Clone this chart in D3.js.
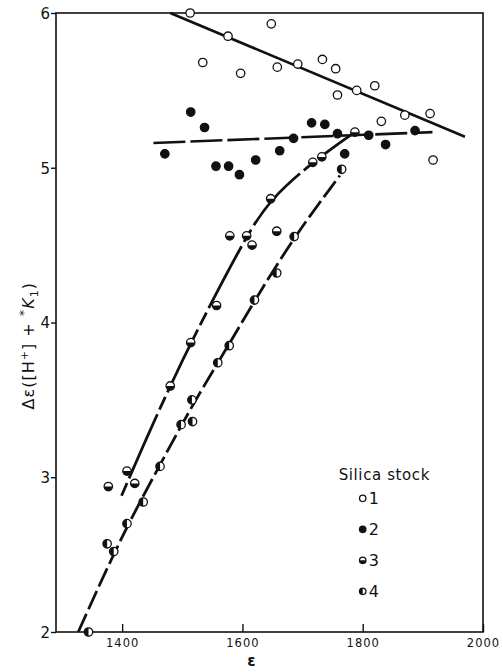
<!DOCTYPE html>
<meta charset="utf-8">
<head>
  <meta charset="utf-8">
  <title>Silica stock</title>
  <style>
    body { margin: 0; background: #fff; }
    svg { display: block; }
    .tick text { font-family: "DejaVu Sans", sans-serif; fill: #111; }
    .lab { font-family: "DejaVu Sans", sans-serif; fill: #111; }
  </style>
</head>
<body>
<div id="chart"></div>
<script src="https://d3js.org/d3.v7.min.js"></script>
<script>

// data
var stock1 = [[1513, 6.00], [1576, 5.85], [1534, 5.68], [1597, 5.61], [1648, 5.93], [1658, 5.65],
  [1692, 5.67], [1733, 5.70], [1755, 5.64], [1758, 5.47], [1790, 5.50], [1820, 5.53],
  [1831, 5.30], [1870, 5.34], [1912, 5.35], [1917, 5.05]];
var stock2 = [[1514, 5.36], [1537, 5.26], [1471, 5.09], [1556, 5.01], [1577, 5.01], [1595, 4.955],
  [1622, 5.05], [1662, 5.11], [1685, 5.19], [1715, 5.29], [1737, 5.28], [1758, 5.22],
  [1770, 5.09], [1810, 5.21], [1838, 5.15], [1887, 5.24]];
var stock3 = [[1377, 2.94], [1408, 3.04], [1421, 2.96], [1480, 3.59], [1514, 3.87], [1557, 4.11],
  [1579, 4.56], [1607, 4.56], [1616, 4.50], [1657, 4.59], [1647, 4.80], [1717, 5.035],
  [1732, 5.07], [1787, 5.23]];
var stock4 = [[1344, 2.00], [1375, 2.57], [1386, 2.52], [1408, 2.70], [1435, 2.84], [1463, 3.07],
  [1498, 3.34], [1517, 3.36], [1516, 3.50], [1559, 3.74], [1578, 3.85], [1620, 4.145],
  [1657, 4.32], [1686, 4.555], [1765, 4.99]];

var fit1 = [[1480, 6.00], [1970, 5.20]];
var fit2 = [[1452, 5.16], [1916, 5.23]];
var fit3 = [[1399, 2.88], [1440, 3.25], [1480, 3.59], [1514, 3.87], [1606, 4.56], [1647, 4.80], [1716, 5.035], [1787, 5.23]];
var fit4 = [[1327, 2.00], [1400, 2.63], [1463, 3.08], [1517, 3.47], [1578, 3.86], [1620, 4.14], [1687, 4.56], [1762, 4.95]];

var xTicks = [1400, 1600, 1800, 2000];
var yTicks = [2, 3, 4, 5, 6];
var legendNames = ["1", "2", "3", "4"];

var margin = {top: 13, right: 20, bottom: 40, left: 56},
    width = 427,
    height = 619;

var svg = d3.select("#chart")
  .append("svg")
    .attr("width", 503)
    .attr("height", 672)
  .append("g")
    .attr("transform", "translate(" + margin.left + "," + margin.top + ")");

var x = d3.scaleLinear().domain([1290, 2000]).range([0, width]);
var y = d3.scaleLinear().domain([2, 6]).range([height, 0]);

// frame
svg.append("rect")
  .attr("width", width).attr("height", height)
  .attr("fill", "none").attr("stroke", "#111").attr("stroke-width", 1.6);

var xAxis = svg.append("g")
  .attr("transform", "translate(0," + height + ")")
  .call(d3.axisBottom(x).tickValues(xTicks).tickFormat(d3.format("d")).tickSizeInner(-8).tickSizeOuter(0).tickPadding(7));
xAxis.select(".domain").remove();
xAxis.selectAll("line").attr("stroke", "#111").attr("stroke-width", 1.4);
xAxis.selectAll("text").style("font-size", "11.5px").style("letter-spacing", "1px");

var yAxis = svg.append("g")
  .call(d3.axisLeft(y).tickValues(yTicks).tickFormat(d3.format("d")).tickSizeInner(5).tickSizeOuter(0).tickPadding(1));
yAxis.select(".domain").remove();
yAxis.selectAll("line").attr("stroke", "#111").attr("stroke-width", 1.4);
yAxis.selectAll("text").style("font-size", "15px").attr("dy", "0.36em");

// axis labels
svg.append("text").attr("class", "lab")
  .attr("x", x(1615)).attr("y", height + 34)
  .attr("text-anchor", "middle")
  .style("font-size", "15px").style("font-weight", "bold")
  .text("\u03b5");

var yl = svg.append("text").attr("class", "lab")
  .attr("transform", "translate(-22," + (y(3.85)) + ") rotate(-90)")
  .attr("text-anchor", "middle")
  .style("font-size", "16px").style("letter-spacing", "1px");
yl.append("tspan").text("\u0394\u03b5([H");
yl.append("tspan").attr("dy", "-6").style("font-size", "11px").text("+");
yl.append("tspan").attr("dy", "6").text("] + ");
yl.append("tspan").attr("dy", "-6").style("font-size", "13px").text("*");
yl.append("tspan").attr("dy", "6").style("font-style", "italic").text("K");
yl.append("tspan").attr("dy", "4").style("font-size", "11px").text("1");
yl.append("tspan").attr("dy", "-4").text(")");

// fitted lines
var line = d3.line().x(function(d) { return x(d[0]); }).y(function(d) { return y(d[1]); });
var smooth = d3.line().curve(d3.curveBasis).x(function(d) { return x(d[0]); }).y(function(d) { return y(d[1]); });

svg.append("path").datum(fit1).attr("d", line)
  .attr("fill", "none").attr("stroke", "#111").attr("stroke-width", 2.6);
svg.append("path").datum(fit2).attr("d", line)
  .attr("fill", "none").attr("stroke", "#111").attr("stroke-width", 2.6)
  .attr("stroke-dasharray", "32,5");
svg.append("path").datum(fit3).attr("d", smooth)
  .attr("fill", "none").attr("stroke", "#111").attr("stroke-width", 2.8)
  .attr("stroke-dasharray", "14,5,70,5");
svg.append("path").datum(fit4).attr("d", smooth)
  .attr("fill", "none").attr("stroke", "#111").attr("stroke-width", 2.8)
  .attr("stroke-dasharray", "20,5");

// markers
function marker(g, kind, r) {
  g.append("circle").attr("r", r)
    .attr("fill", kind === 2 ? "#111" : "#fff")
    .attr("stroke", "#111").attr("stroke-width", 1.3);
  if (kind === 3 || kind === 4) {
    var half = d3.arc().innerRadius(0).outerRadius(r)
      .startAngle(kind === 3 ? Math.PI / 2 : Math.PI)
      .endAngle(kind === 3 ? 3 * Math.PI / 2 : 2 * Math.PI);
    g.append("path").attr("d", half()).attr("fill", "#111");
  }
}

[stock1, stock2, stock3, stock4].forEach(function(set, i) {
  svg.append("g").selectAll("g")
    .data(set)
    .enter()
    .append("g")
      .attr("transform", function(d) { return "translate(" + x(d[0]) + "," + y(d[1]) + ")"; })
      .each(function() { marker(d3.select(this), i + 1, 4.2); });
});

// legend
var legend = svg.append("g").attr("transform", "translate(" + x(1800) + "," + y(2.98) + ")");
legend.append("text").attr("class", "lab")
  .attr("x", -24).attr("y", 0)
  .style("font-size", "15px").style("letter-spacing", "0.6px")
  .text("Silica stock");
legendNames.forEach(function(name, i) {
  var item = legend.append("g").attr("transform", "translate(0," + (18 + i * 31) + ")");
  marker(item, i + 1, 3.2);
  item.append("text").attr("class", "lab")
    .attr("x", 6).attr("y", 6)
    .style("font-size", "16px")
    .text(name);
});

</script>
</body>
